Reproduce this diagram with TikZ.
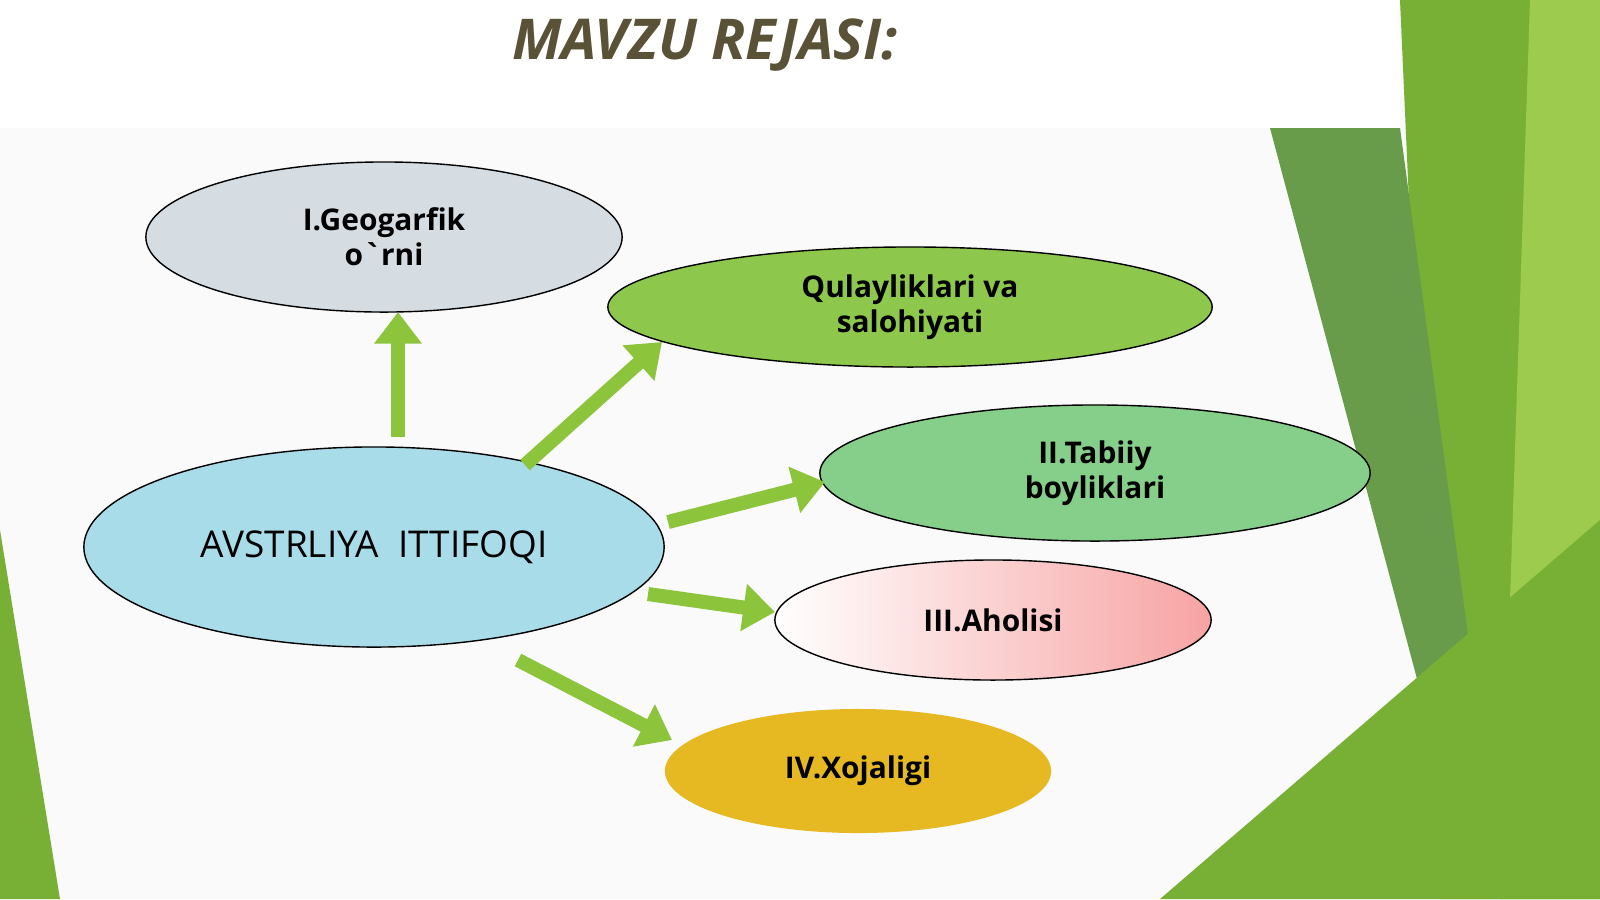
\documentclass[tikz,border=0pt]{standalone}
\usepackage{fontspec}
\setmainfont{Open Sans}
\usetikzlibrary{arrows.meta,shapes.geometric}
\definecolor{titlecol}{HTML}{5A5236}
\definecolor{geocol}{HTML}{D5DDE3}
\definecolor{qulcol}{HTML}{8DC84C}
\definecolor{tabcol}{HTML}{86CF8A}
\definecolor{ahocol}{HTML}{F7A3A3}
\definecolor{xojcol}{HTML}{E6B822}
\definecolor{maincol}{HTML}{A9DCE9}
\definecolor{arrcol}{HTML}{8CC43C}
\definecolor{gdark}{HTML}{4E8A2A}
\definecolor{gmid}{HTML}{78B036}
\definecolor{glight}{HTML}{9CCB4E}
\tikzset{
  oval/.style={ellipse,draw=black,thin,align=center,inner sep=0pt,font=\bfseries\fontsize{8.5}{10}\selectfont},
  blk/.style={line width=4pt,draw=arrcol,-{Triangle[length=9pt,width=13pt]}} % Blockpfeile
}
\begin{document}
\begin{tikzpicture}[x=0.01cm,y=-0.01cm]
\useasboundingbox (0,0) rectangle (1600,899);
%Hintergrund
\fill[gray!4] (0,0) rectangle (1600,899);
\fill[gmid] (1400,0) -- (1600,0) -- (1600,899) -- (1440,899) -- cycle;
\fill[gdark!85] (1270,128) -- (1400,128) -- (1470,650) -- (1420,690) -- cycle;
\fill[glight] (1530,0) -- (1600,0) -- (1600,899) -- (1500,899) -- cycle;
\fill[gmid] (1160,899) -- (1600,520) -- (1600,899) -- cycle;
\fill[gmid] (0,530) -- (60,899) -- (0,899) -- cycle;
\fill[white] (0,0) rectangle (1400,128);
\node[font=\bfseries\itshape\fontsize{16}{18}\selectfont,text=titlecol] (title) at (705,45) {MAVZU REJASI:};
%Ellipsen
\node[oval,fill=geocol,minimum width=4.76cm,minimum height=1.5cm] (geo) at (384,237) {I.Geogarfik\\o\textasciigrave rni};
\node[oval,fill=qulcol,minimum width=6.04cm,minimum height=1.2cm] (qul) at (910,307) {Qulayliklari va\\salohiyati};
\node[oval,fill=tabcol,minimum width=5.5cm,minimum height=1.36cm] (tab) at (1095,473) {II.Tabiiy\\boyliklari};
\node[oval,left color=white,right color=ahocol,minimum width=4.36cm,minimum height=1.2cm] (aho) at (993,620) {III.Aholisi};
\node[oval,fill=xojcol,draw=none,minimum width=3.86cm,minimum height=1.24cm] (xoj) at (858,771) {IV.Xojaligi};
\node[oval,fill=maincol,minimum width=5.8cm,minimum height=2cm,font=\fontsize{10.5}{12}\selectfont] (main) at (374,547) {AVSTRLIYA~~ITTIFOQI};
%Pfeile
\coordinate (a1) at (398,437);
\coordinate (b1) at (398,312);
\coordinate (a2) at (525,465);
\coordinate (b2) at (662,342);
\coordinate (a3) at (668,522);
\coordinate (b3) at (825,482);
\coordinate (a4) at (648,594);
\coordinate (b4) at (775,612);
\coordinate (a5) at (518,660);
\coordinate (b5) at (672,740);
\draw[blk] (a1) -- (b1);
\draw[blk] (a2) -- (b2);
\draw[blk] (a3) -- (b3);
\draw[blk] (a4) -- (b4);
\draw[blk] (a5) -- (b5);
\end{tikzpicture}
\end{document}
